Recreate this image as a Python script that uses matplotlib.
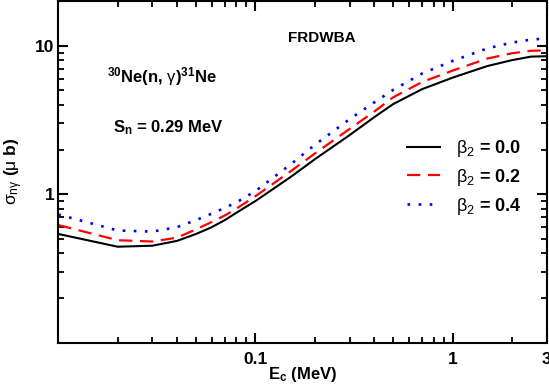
import numpy as np
import matplotlib
matplotlib.use("Agg")
from matplotlib import pyplot as plt
from matplotlib.ticker import LogLocator, NullFormatter

plt.rcParams['font.family'] = ['Liberation Sans', 'DejaVu Sans']
plt.rcParams['mathtext.fontset'] = 'custom'
plt.rcParams['mathtext.rm'] = 'Liberation Sans:bold'
plt.rcParams['mathtext.it'] = 'Liberation Sans:bold'
plt.rcParams['mathtext.bf'] = 'Liberation Sans:bold'
plt.rcParams['mathtext.sf'] = 'Liberation Sans'

# energies (MeV) and capture cross sections (micro barn)
energy = [0.01, 0.02, 0.03, 0.04, 0.05, 0.06, 0.07, 0.08, 0.1, 0.15, 0.2,
          0.3, 0.4, 0.5, 0.7, 1.0, 1.5, 2.0, 2.5, 3.0]
sigma_b00 = [0.54, 0.443, 0.45, 0.485, 0.54, 0.60, 0.67, 0.75, 0.90, 1.30, 1.72,
             2.5, 3.3, 4.05, 5.1, 6.1, 7.3, 8.0, 8.45, 8.5]
sigma_b02 = [0.62, 0.49, 0.48, 0.51, 0.58, 0.65, 0.72, 0.80, 0.97, 1.42, 1.88,
             2.75, 3.6, 4.5, 5.7, 6.8, 8.2, 8.9, 9.25, 9.3]
sigma_b04 = [0.73, 0.57, 0.56, 0.60, 0.67, 0.74, 0.81, 0.88, 1.05, 1.58, 2.15,
             3.2, 4.15, 5.05, 6.5, 7.9, 9.6, 10.5, 11.0, 11.2]
labels = [r'$\mathsf{\beta_2}$ = 0.0', r'$\mathsf{\beta_2}$ = 0.2',
          r'$\mathsf{\beta_2}$ = 0.4']

fig = plt.figure(figsize=(5.49, 3.9), dpi=100)
ax = fig.add_axes([0.1062, 0.1213, 0.8896, 0.8760])

ax.plot(energy, sigma_b00, color='black', lw=1.5, label=labels[0])
ax.plot(energy, sigma_b02, color='red', lw=1.6, ls=(0, (6, 3.4)), label=labels[1])
ax.plot(energy, sigma_b04, color='blue', lw=1.9, ls=(0, (1, 3.2)), label=labels[2])

ax.set_xscale('log')
ax.set_yscale('log')
ax.set_xlim(0.01, 3)
ax.set_ylim(0.1, 20)

ax.set_xticks([0.1, 1, 3])
ax.set_xticklabels(['0.1', '1', '3'])
ax.set_yticks([1, 10])
ax.set_yticklabels(['1', '10'])
ax.xaxis.set_minor_locator(LogLocator(base=10, subs=np.arange(2, 10)))
ax.yaxis.set_minor_locator(LogLocator(base=10, subs=np.arange(2, 10)))
ax.xaxis.set_minor_formatter(NullFormatter())
ax.yaxis.set_minor_formatter(NullFormatter())

ax.tick_params(which='both', direction='in', top=True, right=True)
ax.tick_params(which='major', length=7.5, width=1.5, labelsize=12.5)
ax.tick_params(which='minor', length=4.5, width=1.3)
ax.tick_params(axis='x', which='major', pad=7)
ax.tick_params(axis='y', which='major', pad=3)
for lab in ax.get_xticklabels() + ax.get_yticklabels():
    lab.set_fontweight('bold')
for sp in ax.spines.values():
    sp.set_linewidth(1.5)

ax.set_xlabel(r'E$_\mathbf{c}$ (MeV)', fontsize=12, fontweight='bold')
ax.set_ylabel(r'$\mathsf{\sigma_{n\gamma}}$ ($\mathsf{\mu}$ b)', fontsize=12.5,
              fontweight='bold')
ax.xaxis.set_label_coords(0.5, -0.065)
ax.yaxis.set_label_coords(-0.068, 0.5)

ax.text(0.470, 0.880, 'FRDWBA', transform=ax.transAxes, fontsize=11,
        fontweight='bold', va='baseline')
ax.text(0.0997, 0.763, r'$^{30}$Ne(n, $\mathsf{\gamma}$)$^{31}$Ne',
        transform=ax.transAxes, fontsize=12, fontweight='bold', va='baseline')
ax.text(0.111, 0.617, r'S$_\mathbf{n}$ = 0.29 MeV', transform=ax.transAxes,
        fontsize=12, fontweight='bold', va='baseline')

leg = ax.legend(loc='upper left', bbox_to_anchor=(0.713, 0.599), frameon=False,
                prop={'weight': 'bold', 'size': 13}, handlelength=1.83,
                handletextpad=0.89, labelspacing=0.43, borderpad=0,
                borderaxespad=0)

fig.savefig('out.png', dpi=100)
